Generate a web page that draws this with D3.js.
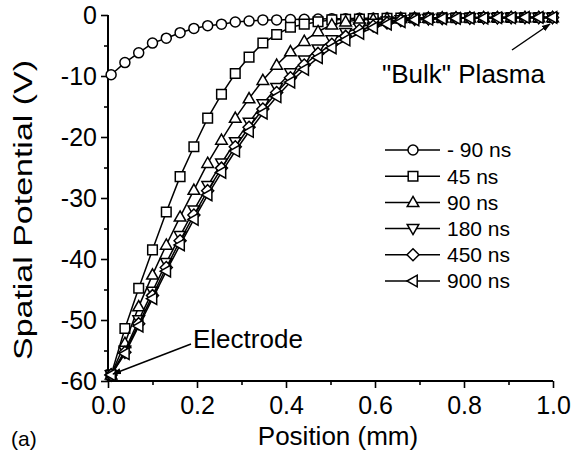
<!DOCTYPE html>
<html>
<head>
<meta charset="utf-8">
<script src="https://cdn.jsdelivr.net/npm/d3@7"></script>
<style>
  body { margin: 0; background: #fff; }
  svg { display: block; }
  text { font-family: "Liberation Sans", Arial, Helvetica, sans-serif; fill: #000; }
</style>
</head>
<body>
<svg id="chart" width="574" height="455"></svg>
<script>
// Probe positions (mm) shared by every time slice
const positions = [0.007, 0.038, 0.069, 0.100, 0.131, 0.162, 0.193, 0.224, 0.255, 0.286, 0.317,
  0.348, 0.379, 0.410, 0.441, 0.472, 0.503, 0.534, 0.565, 0.596, 0.627, 0.658, 0.689, 0.720,
  0.751, 0.782, 0.813, 0.844, 0.875, 0.906, 0.937, 0.968, 0.999];

// Spatial potential (V) at each position, one array per time
const potentialMinus90ns = [-9.8, -7.8, -6.2, -4.6, -3.8, -2.9, -2.2, -1.75, -1.5, -1.15, -1.0,
  -0.8, -0.8, -0.75, -0.7, -0.65, -0.6, -0.6, -0.55, -0.55, -0.5, -0.5, -0.5, -0.45, -0.45,
  -0.45, -0.4, -0.4, -0.4, -0.4, -0.4, -0.4, -0.4];
const potential45ns = [-59, -51.4, -44.8, -38.5, -32.3, -26.5, -21.6, -16.9, -13.0, -9.6, -6.9,
  -4.6, -3.2, -2.0, -1.5, -1.1, -0.8, -0.7, -0.65, -0.6, -0.55, -0.5, -0.5, -0.5, -0.45, -0.45,
  -0.45, -0.4, -0.4, -0.4, -0.4, -0.4, -0.4];
const potential90ns = [-59, -53.8, -47.8, -42.6, -37.7, -33.1, -28.7, -24.3, -20.5, -16.9, -13.7,
  -10.7, -8.2, -6.0, -4.3, -2.7, -1.6, -1.1, -0.8, -0.7, -0.6, -0.55, -0.5, -0.5, -0.45, -0.45,
  -0.45, -0.4, -0.4, -0.4, -0.4, -0.4, -0.4];
const potential180ns = [-59, -55, -50, -45.3, -40.6, -36.2, -32, -28, -24.3, -20.8, -17.6,
  -14.6, -11.9, -9.5, -7.4, -5.6, -4.1, -2.9, -2.0, -1.4, -1.0, -0.8, -0.7, -0.6, -0.55, -0.5,
  -0.5, -0.45, -0.45, -0.4, -0.4, -0.4, -0.4];
const potential450ns = [-59, -55.3, -50.6, -46, -41.4, -37, -32.8, -28.8, -25.1, -21.6, -18.4,
  -15.4, -12.7, -10.3, -8.2, -6.3, -4.8, -3.5, -2.5, -1.8, -1.3, -0.9, -0.7, -0.6, -0.55, -0.5,
  -0.5, -0.45, -0.45, -0.4, -0.4, -0.4, -0.4];
const potential900ns = [-59, -55.5, -51, -46.5, -42, -37.7, -33.5, -29.5, -25.8, -22.3, -19.1,
  -16.1, -13.4, -11.0, -8.9, -7.0, -5.4, -4.1, -3.0, -2.1, -1.5, -1.1, -0.8, -0.7, -0.6, -0.55,
  -0.5, -0.5, -0.45, -0.45, -0.4, -0.4, -0.4];

const seriesLabels = ["- 90 ns", "45 ns", "90 ns", "180 ns", "450 ns", "900 ns"];
const seriesMarkers = ["circle", "square", "triangleUp", "triangleDown", "diamond", "triangleLeft"];
const seriesValues = [potentialMinus90ns, potential45ns, potential90ns, potential180ns,
  potential450ns, potential900ns];

const xMajorTicks = [0, 0.2, 0.4, 0.6, 0.8, 1.0];
const xMinorTicks = [0.1, 0.3, 0.5, 0.7, 0.9];
const yMajorTicks = [0, -10, -20, -30, -40, -50, -60];
const yMinorTicks = [-5, -15, -25, -35, -45, -55];

const svg = d3.select("#chart");
const x = d3.scaleLinear().domain([0, 1]).range([108, 553]);
const y = d3.scaleLinear().domain([-60, 0]).range([381, 15]);

// Hollow marker outlines, sized in pixels
function markerPath(kind) {
  const p = d3.path();
  if (kind === "circle") {
    p.arc(0, 0, 5, 0, 2 * Math.PI);
  } else if (kind === "square") {
    p.rect(-4.8, -4.8, 9.6, 9.6);
  } else if (kind === "triangleUp") {
    p.moveTo(0, -6); p.lineTo(5.8, 4.2); p.lineTo(-5.8, 4.2); p.closePath();
  } else if (kind === "triangleDown") {
    p.moveTo(0, 6); p.lineTo(5.8, -4.2); p.lineTo(-5.8, -4.2); p.closePath();
  } else if (kind === "diamond") {
    p.moveTo(0, -6); p.lineTo(6, 0); p.lineTo(0, 6); p.lineTo(-6, 0); p.closePath();
  } else if (kind === "triangleLeft") {
    p.moveTo(-6, 0); p.lineTo(4.2, -5.8); p.lineTo(4.2, 5.8); p.closePath();
  }
  return p.toString();
}

// Axes
const axisFont = 25;
const xAxisG = svg.append("g").attr("transform", `translate(0,${y(-60)})`)
  .call(d3.axisBottom(x).tickValues(xMajorTicks).tickSize(7).tickPadding(8)
    .tickFormat(d3.format(".1f")));
const xMinorG = svg.append("g").attr("transform", `translate(0,${y(-60)})`)
  .call(d3.axisBottom(x).tickValues(xMinorTicks).tickSize(4).tickFormat(""));
const yAxisG = svg.append("g").attr("transform", `translate(${x(0)},0)`)
  .call(d3.axisLeft(y).tickValues(yMajorTicks).tickSize(7).tickPadding(4)
    .tickFormat(d => d3.format("d")(d).replace("\u2212", "-")));
const yMinorG = svg.append("g").attr("transform", `translate(${x(0)},0)`)
  .call(d3.axisLeft(y).tickValues(yMinorTicks).tickSize(4).tickFormat(""));

// plain axis lines without end caps
[xAxisG, xMinorG].forEach(g => g.select(".domain").attr("d", `M${x(0)},0H${x(1)}`));
[yAxisG, yMinorG].forEach(g => g.select(".domain").attr("d", `M0,${y(0)}V${y(-60)}`));
svg.selectAll(".domain").attr("stroke", "#000").attr("stroke-width", 2);
svg.selectAll(".tick line").attr("stroke", "#000").attr("stroke-width", 1.6);
svg.selectAll(".tick text").attr("font-size", axisFont)
  .style("font-family", '"Liberation Sans", Arial, sans-serif').attr("fill", "#000");

// Axis titles
svg.append("text").attr("x", 338).attr("y", 445).attr("text-anchor", "middle")
  .attr("font-size", 26).text("Position (mm)");
svg.append("text").attr("transform", "translate(32,210) rotate(-90)")
  .attr("text-anchor", "middle").attr("font-size", 26)
  .attr("textLength", 300).attr("lengthAdjust", "spacingAndGlyphs")
  .text("Spatial Potential (V)");
svg.append("text").attr("x", 11).attr("y", 446).attr("font-size", 21).text("(a)");

// Series lines and markers
const line = d3.line().x((d, i) => x(positions[i])).y(d => y(d));
seriesValues.forEach((vals, s) => {
  const g = svg.append("g");
  g.append("path").attr("d", line(vals)).attr("fill", "none")
    .attr("stroke", "#000").attr("stroke-width", 1.5);
  g.selectAll("path.mk").data(vals).join("path").attr("class", "mk")
    .attr("d", markerPath(seriesMarkers[s]))
    .attr("transform", (d, i) => `translate(${x(positions[i])},${y(d)})`)
    .attr("fill", "#fff").attr("stroke", "#000").attr("stroke-width", 1.5);
});

// Legend
const legend = svg.append("g");
seriesLabels.forEach((lab, s) => {
  const ly = 150 + 26.2 * s;
  legend.append("line").attr("x1", 385).attr("x2", 440).attr("y1", ly).attr("y2", ly)
    .attr("stroke", "#000").attr("stroke-width", 1.5);
  legend.append("path").attr("d", markerPath(seriesMarkers[s]))
    .attr("transform", `translate(413,${ly})`)
    .attr("fill", "#fff").attr("stroke", "#000").attr("stroke-width", 1.5);
  legend.append("text").attr("x", 447).attr("y", ly).attr("dy", "0.35em")
    .attr("font-size", 21).text(lab);
});

// Annotations with arrows
const defs = svg.append("defs");
defs.append("marker").attr("id", "arrowHead").attr("viewBox", "0 0 10 10")
  .attr("refX", 9).attr("refY", 5).attr("markerWidth", 9).attr("markerHeight", 9)
  .attr("markerUnits", "userSpaceOnUse").attr("orient", "auto")
  .append("path").attr("d", "M0,1.5L10,5L0,8.5Z").attr("fill", "#000");

svg.append("line").attr("x1", 191).attr("y1", 344).attr("x2", 113).attr("y2", 374)
  .attr("stroke", "#000").attr("stroke-width", 1.5).attr("marker-end", "url(#arrowHead)");
svg.append("text").attr("x", 193).attr("y", 348).attr("font-size", 26).text("Electrode");

svg.append("line").attr("x1", 512).attr("y1", 50).attr("x2", 550).attr("y2", 24)
  .attr("stroke", "#000").attr("stroke-width", 1.5).attr("marker-end", "url(#arrowHead)");
svg.append("text").attr("x", 382).attr("y", 83).attr("font-size", 26).text("\"Bulk\" Plasma");
</script>
</body>
</html>
